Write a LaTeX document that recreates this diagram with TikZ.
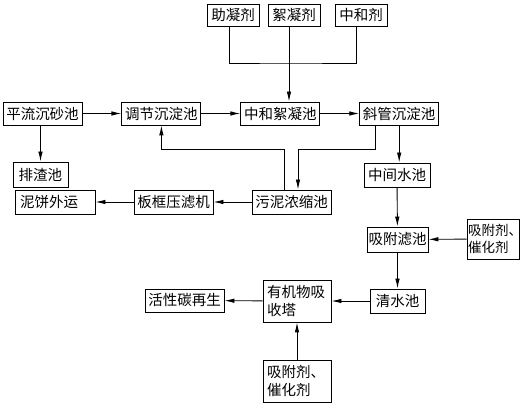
\documentclass[tikz,border=0pt]{standalone}
\usepackage{fontspec}
\setmainfont{Noto Sans CJK SC}
\usetikzlibrary{arrows.meta, positioning}

\begin{document}
\begin{tikzpicture}[x=1pt, y=-1pt, node distance=39pt,
          unit/.style={rectangle, draw=black, line width=0.9pt, minimum width=79pt, minimum height=23pt, inner sep=2pt, font=\fontsize{14.5}{17.5}\selectfont},
          additive/.style={unit, minimum width=52pt, minimum height=22pt},
          twoline/.style={unit, align=left, text width=60pt, inner xsep=4pt, minimum width=68pt, minimum height=42pt},
          arrow/.style={-{Latex[length=10pt, width=4.5pt]}, line width=0.9pt},
          pipe/.style={line width=0.9pt}]

        \useasboundingbox (0,0) rectangle (523,406);

        % dosing
        \node [additive] (zhu_ning) at (233,15) {助凝剂};
        \node [additive] (xu_ning) at (294,15) {絮凝剂};
        \node [additive] (zhong_he_ji) at (361,15) {中和剂};

        % main line
        \node [unit] (ping_liu) at (42.5,113.5) {平流沉砂池};
        \node [unit, right=of ping_liu] (tiao_jie) {调节沉淀池};
        \node [unit, right=of tiao_jie] (zhong_he_xn) {中和絮凝池};
        \node [unit, right=of zhong_he_xn] (xie_guan) {斜管沉淀池};

        % sludge
        \node [unit, minimum width=55pt, minimum height=25pt] (pai_zha) at (40.5,174.5) {排渣池};
        \node [unit, align=left, text width=70pt, inner xsep=5pt, minimum width=80pt, minimum height=24pt] (ni_bing) at (55,202) {泥饼外运};
        \node [unit, minimum height=24pt] (ban_kuang) at (173.5,202) {板框压滤机};
        \node [unit, minimum height=24pt] (wu_ni) at (291.5,202) {污泥浓缩池};

        % water
        \node [unit, minimum width=66pt, minimum height=24pt] (zhong_jian) at (397,175) {中间水池};
        \node [unit, minimum width=61pt, minimum height=25pt, inner xsep=1pt] (xi_fu_lc) at (397.5,239.5) {吸附滤池};
        \node [unit, align=left, text width=50pt, inner xsep=1pt, minimum width=52pt, minimum height=40pt, font=\fontsize{13.5}{17.5}\selectfont] (xi_fu_ji_r) at (493,239) {吸附剂、\\催化剂};
        \node [unit, minimum width=55pt, minimum height=24pt] (qing_shui) at (397.5,301) {清水池};
        \node [twoline] (you_ji) at (297,301) {有机物吸\\收塔};
        \node [unit] (huo_xing) at (184.5,300.5) {活性碳再生};
        \node [twoline] (xi_fu_ji_b) at (297,381) {吸附剂、\\催化剂};

        \coordinate (dose_join) at (289,63);
        \coordinate (sludge_in) at (298,149);
        \coordinate (sludge_out) at (284,149);

        \draw [pipe] ([xshift=-4pt]zhu_ning.south) |- (dose_join) -| ([xshift=-5pt]zhong_he_ji.south);
        \draw [pipe] ([xshift=-5pt]xu_ning.south) -- (dose_join);
        \draw [arrow] (dose_join) -- (dose_join |- zhong_he_xn.north);

        \draw [arrow] (ping_liu) -- (tiao_jie);
        \draw [arrow] (tiao_jie) -- (zhong_he_xn);
        \draw [arrow] (zhong_he_xn) -- (xie_guan);
        \draw [arrow] (ping_liu.south -| pai_zha.north) -- (pai_zha.north);

        \draw [arrow] ([xshift=-24pt]xie_guan.south) |- (sludge_in) -- (sludge_in |- wu_ni.north);
        \draw [arrow] (sludge_out |- wu_ni.north) -- (sludge_out) -| (tiao_jie.south);
        \draw [arrow] (wu_ni) -- (ban_kuang);
        \draw [arrow] (ban_kuang) -- (ni_bing);

        \draw [arrow] (xie_guan.south) -- (xie_guan.south |- zhong_jian.north);
        \draw [arrow] (zhong_jian) -- (xi_fu_lc);
        \draw [arrow] (xi_fu_ji_r) -- (xi_fu_lc);
        \draw [arrow] (xi_fu_lc) -- (qing_shui);
        \draw [arrow] (qing_shui) -- (you_ji);
        \draw [arrow] (you_ji) -- (huo_xing);
        \draw [arrow] (xi_fu_ji_b) -- (you_ji);
      \end{tikzpicture}
\end{document}
